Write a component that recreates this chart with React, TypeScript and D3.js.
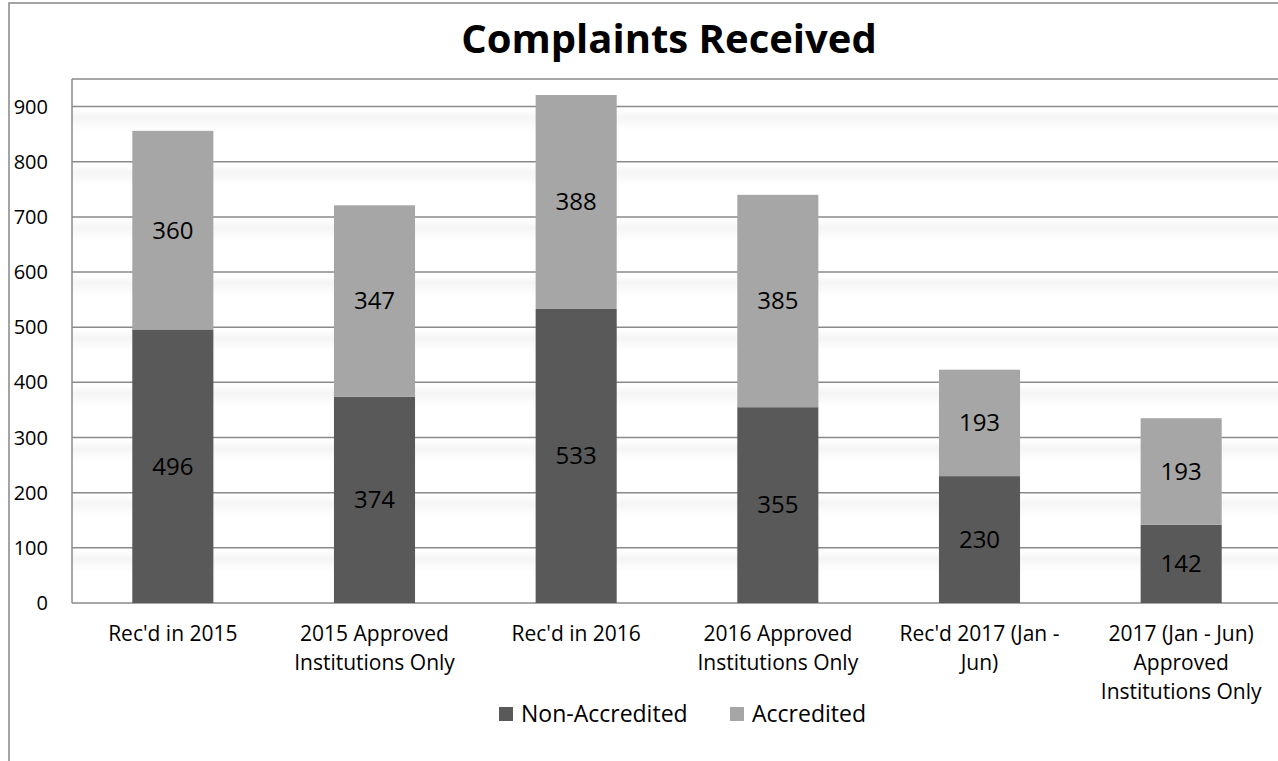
import React, { useEffect, useRef } from 'react';
import * as d3 from 'd3';

const categories = [
  "Rec'd in 2015",
  '2015 Approved Institutions Only',
  "Rec'd in 2016",
  '2016 Approved Institutions Only',
  "Rec'd 2017 (Jan - Jun)",
  '2017 (Jan - Jun) Approved Institutions Only'
];
const categoryLines = [
  ["Rec'd in 2015"],
  ['2015 Approved', 'Institutions Only'],
  ["Rec'd in 2016"],
  ['2016 Approved', 'Institutions Only'],
  ["Rec'd 2017 (Jan -", 'Jun)'],
  ['2017 (Jan - Jun)', 'Approved', 'Institutions Only']
];
const nonAccredited = [496, 374, 533, 355, 230, 142];
const accredited = [360, 347, 388, 385, 193, 193];
const yTicks = [0, 100, 200, 300, 400, 500, 600, 700, 800, 900];
const seriesNames = ['Non-Accredited', 'Accredited'];
const seriesColors = ['#595959', '#a6a6a6'];

const W = 1278;
const H = 761;
const FONT = "'Open Sans', sans-serif";

function App() {
  const ref = useRef<SVGSVGElement>(null);

  useEffect(() => {
    const svg = d3.select(ref.current);
    svg.selectAll('*').remove();

    const left = 72, top = 79, bottom = 603, right = 1282;
    const x = d3.scaleBand().domain(categories).range([left, right]).padding(0);
    const y = d3.scaleLinear().domain([0, 950]).range([bottom, top]);
    const barW = x.bandwidth() * 0.402;

    const defs = svg.append('defs');
    const grad = defs.append('linearGradient').attr('id', 'shade').attr('x1', 0).attr('x2', 0).attr('y1', 0).attr('y2', 1);
    grad.append('stop').attr('offset', '0%').attr('stop-color', '#000').attr('stop-opacity', 0);
    grad.append('stop').attr('offset', '40%').attr('stop-color', '#000').attr('stop-opacity', 0.04);
    grad.append('stop').attr('offset', '100%').attr('stop-color', '#000').attr('stop-opacity', 0);

    // outer frame
    svg.append('rect')
      .attr('x', 9).attr('y', 3).attr('width', W + 20).attr('height', H + 20)
      .attr('fill', '#fff').attr('stroke', '#868686').attr('stroke-width', 1.5);

    svg.append('text')
      .attr('x', 669).attr('y', 53)
      .attr('text-anchor', 'middle')
      .attr('font-family', FONT).attr('font-weight', 700).attr('font-size', 40)
      .attr('fill', '#000')
      .text('Complaints Received');

    // gridline shading
    svg.append('g').selectAll('rect')
      .data(yTicks.filter((t) => t > 0))
      .enter().append('rect')
      .attr('x', left).attr('y', (d) => y(d) + 2)
      .attr('width', right - left).attr('height', 22)
      .attr('fill', 'url(#shade)');

    // gridlines
    svg.append('g').selectAll('line')
      .data(yTicks)
      .enter().append('line')
      .attr('x1', left).attr('x2', right)
      .attr('y1', (d) => y(d)).attr('y2', (d) => y(d))
      .attr('stroke', '#8a8a8a').attr('stroke-width', 1.5);

    // plot area border
    svg.append('line').attr('x1', left).attr('x2', right).attr('y1', top).attr('y2', top)
      .attr('stroke', '#8a8a8a').attr('stroke-width', 1.5);
    svg.append('line').attr('x1', left).attr('x2', left).attr('y1', top).attr('y2', bottom)
      .attr('stroke', '#8a8a8a').attr('stroke-width', 1.5);

    const stacked = d3.stack<number>().keys(['0', '1'])
      .value((i, k) => (k === '0' ? nonAccredited[i] : accredited[i]))(d3.range(categories.length));

    stacked.forEach((layer, si) => {
      const g = svg.append('g');
      g.selectAll('rect')
        .data(layer)
        .enter().append('rect')
        .attr('x', (_, i) => (x(categories[i]) as number) + (x.bandwidth() - barW) / 2)
        .attr('y', (d) => y(d[1]))
        .attr('width', barW)
        .attr('height', (d) => y(d[0]) - y(d[1]))
        .attr('fill', seriesColors[si]);
      g.selectAll('text')
        .data(layer)
        .enter().append('text')
        .attr('x', (_, i) => (x(categories[i]) as number) + x.bandwidth() / 2)
        .attr('y', (d) => y((d[0] + d[1]) / 2))
        .attr('dy', '0.35em')
        .attr('text-anchor', 'middle')
        .attr('font-family', FONT).attr('font-size', 24)
        .attr('fill', '#000')
        .text((d) => d[1] - d[0]);
    });

    // y axis labels
    svg.append('g').selectAll('text')
      .data(yTicks)
      .enter().append('text')
      .attr('x', 48).attr('y', (d) => y(d))
      .attr('dy', '0.35em')
      .attr('text-anchor', 'end')
      .attr('font-family', FONT).attr('font-size', 20)
      .attr('fill', '#000')
      .text((d) => d);

    // category labels
    const cat = svg.append('g');
    categories.forEach((c, i) => {
      const t = cat.append('text')
        .attr('x', (x(c) as number) + x.bandwidth() / 2)
        .attr('y', 634)
        .attr('text-anchor', 'middle')
        .attr('font-family', FONT).attr('font-size', 21)
        .attr('fill', '#000');
      categoryLines[i].forEach((line, li) => {
        t.append('tspan')
          .attr('x', (x(c) as number) + x.bandwidth() / 2)
          .attr('y', 634 + li * 28.7)
          .attr('dy', '0.35em')
          .text(line);
      });
    });

    // legend
    const legendX = [499, 730];
    const legend = svg.append('g');
    seriesNames.forEach((name, i) => {
      legend.append('rect')
        .attr('x', legendX[i]).attr('y', 707).attr('width', 14).attr('height', 14)
        .attr('fill', seriesColors[i]);
      legend.append('text')
        .attr('x', legendX[i] + 22).attr('y', 714).attr('dy', '0.35em')
        .attr('font-family', FONT).attr('font-size', 23)
        .attr('fill', '#000')
        .text(name);
    });
  }, []);

  return (
    <div style={{ position: 'absolute', left: 0, top: 0 }}>
      <svg ref={ref} width={W} height={H} style={{ display: 'block' }} />
    </div>
  );
}

export default App;
